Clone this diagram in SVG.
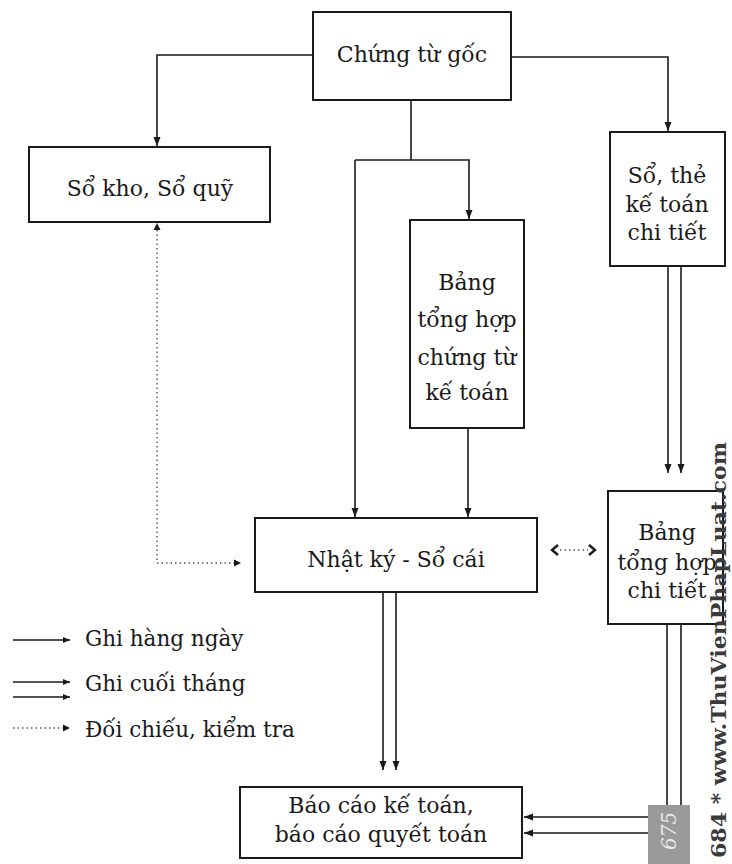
<svg xmlns="http://www.w3.org/2000/svg" width="732" height="864" viewBox="0 0 732 864">
<style>
.box{fill:#fff;stroke:#1a1a1a;stroke-width:2}
.t{font-family:"DejaVu Serif","Liberation Serif",serif;font-size:22px;fill:#1a1a1a;text-anchor:middle}
.lg{font-family:"DejaVu Serif","Liberation Serif",serif;font-size:21.5px;fill:#1a1a1a}
.c{fill:none;stroke:#1a1a1a;stroke-width:1.6}
.d{fill:none;stroke:#555;stroke-width:1.4;stroke-dasharray:1.5 3}
</style>
<defs>
<marker id="ah" markerUnits="userSpaceOnUse" markerWidth="10" markerHeight="8" refX="9" refY="4" orient="auto">
<path d="M0,0.5 L9,4 L0,7.5 z" fill="#1a1a1a"/>
</marker>
<marker id="ahs" markerUnits="userSpaceOnUse" markerWidth="8" markerHeight="8" refX="7" refY="4" orient="auto">
<path d="M0,1 L7,4 L0,7 z" fill="#1a1a1a"/>
</marker>
</defs>
<rect width="732" height="864" fill="#fff"/>

<g id="connectors">
<path class="c" d="M313,55 H157 V146" marker-end="url(#ah)"/>
<path class="c" d="M511,57 H668 V131" marker-end="url(#ah)"/>
<path class="c" d="M411,100 V160"/>
<path class="c" d="M355,160 H469 V219" marker-end="url(#ah)"/>
<path class="c" d="M355,160 V517" marker-end="url(#ah)"/>
<path class="c" d="M468,428 V517" marker-end="url(#ah)"/>
<path class="c" d="M668,266 V473" marker-end="url(#ah)"/>
<path class="c" d="M681,266 V473" marker-end="url(#ah)"/>
<path class="c" d="M383,592 V770" marker-end="url(#ah)"/>
<path class="c" d="M396,592 V770" marker-end="url(#ah)"/>
<path class="c" d="M667,624 V817 H524" marker-end="url(#ah)"/>
<path class="c" d="M681,624 V833 H524" marker-end="url(#ah)"/>
<path class="d" d="M157,230 V563 H236"/>
<path d="M153.5,230 L157,223 L160.5,230 z" fill="#1a1a1a"/>
<path d="M234,559.5 L241,563 L234,566.5 z" fill="#1a1a1a"/>
<path class="d" d="M560,550 H588" stroke-dasharray="3 5"/>
<path d="M558,545 L552,550 L558,555" fill="none" stroke="#1a1a1a" stroke-width="2.4"/>
<path d="M589,545 L595,550 L589,555" fill="none" stroke="#1a1a1a" stroke-width="2.4"/>
</g>

<g id="n-chungtugoc">
<rect class="box" x="313" y="12" width="198" height="88"/>
<text class="t" x="412" y="62">Chứng từ gốc</text>
</g>
<g id="n-sokho">
<rect class="box" x="29" y="147" width="241" height="75"/>
<text class="t" x="150" y="196">Sổ kho, Sổ quỹ</text>
</g>
<g id="n-sothe">
<rect class="box" x="610" y="132" width="115" height="134"/>
<text class="t" x="667" y="183">Sổ, thẻ</text>
<text class="t" x="667" y="212">kế toán</text>
<text class="t" x="667" y="240">chi tiết</text>
</g>
<g id="n-bangtonghopct">
<rect class="box" x="410" y="220" width="114" height="208"/>
<text class="t" x="467" y="290">Bảng</text>
<text class="t" x="467" y="327">tổng hợp</text>
<text class="t" x="467" y="365">chứng từ</text>
<text class="t" x="467" y="400">kế toán</text>
</g>
<g id="n-nhatky">
<rect class="box" x="255" y="518" width="282" height="74"/>
<text class="t" x="396" y="567">Nhật ký - Sổ cái</text>
</g>
<g id="n-bangchitiet">
<rect class="box" x="608" y="491" width="115" height="133"/>
<text class="t" x="667" y="540">Bảng</text>
<text class="t" x="667" y="570">tổng hợp</text>
<text class="t" x="667" y="598">chi tiết</text>
</g>
<g id="n-baocao">
<rect class="box" x="240" y="787" width="282" height="71"/>
<text class="t" x="381" y="813">Báo cáo kế toán,</text>
<text class="t" x="381" y="842">báo cáo quyết toán</text>
</g>

<g id="legend">
<path class="c" d="M13,640 H70" marker-end="url(#ahs)"/>
<text class="lg" x="85" y="646">Ghi hàng ngày</text>
<path class="c" d="M13,682 H70" marker-end="url(#ahs)"/>
<path class="c" d="M13,697 H70" marker-end="url(#ahs)"/>
<text class="lg" x="85" y="691">Ghi cuối tháng</text>
<path class="d" d="M13,728 H64"/>
<path d="M63,724.5 L70,728 L63,731.5 z" fill="#1a1a1a"/>
<text class="lg" x="85" y="737">Đối chiếu, kiểm tra</text>
</g>

<g id="watermark">
<rect x="648" y="805" width="42" height="59" fill="#9a9a9a"/>
<text transform="translate(676,850) rotate(-90)" font-family="DejaVu Serif, serif" font-size="20" font-style="italic" fill="#e8e8e8">675</text>
<text transform="translate(726,858) rotate(-90)" font-family="DejaVu Serif, serif" font-size="20" font-weight="bold" fill="#3a3a3a" textLength="416" lengthAdjust="spacingAndGlyphs">684 * www.ThuVienPhapLuat.com</text>
</g>
</svg>
